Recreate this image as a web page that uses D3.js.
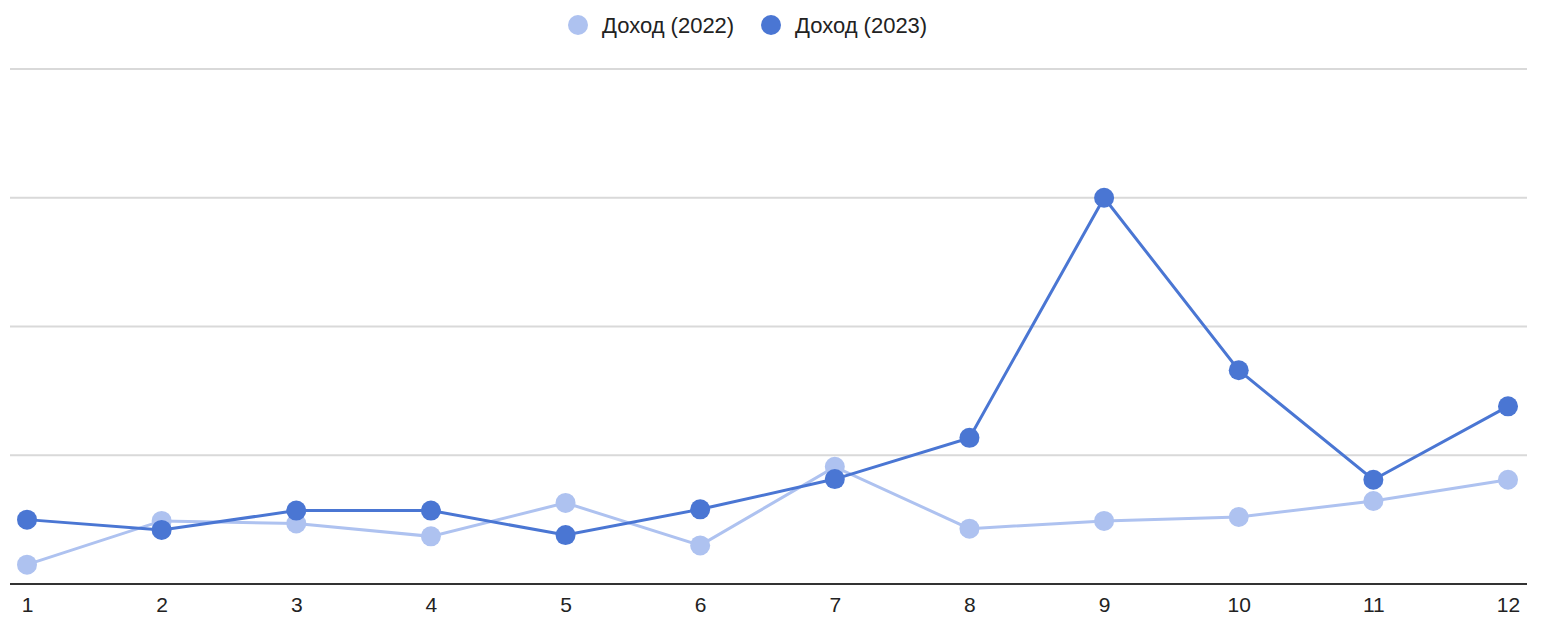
<!DOCTYPE html>
<html><head><meta charset="utf-8">
<script src="https://cdn.jsdelivr.net/npm/d3@7"></script>
<style>body{margin:0;background:#fff;}svg{display:block;font-family:"Liberation Sans",Arial,sans-serif;}</style>
</head><body>
<svg id="c" width="1542" height="637"></svg>
<script>
const months = [1,2,3,4,5,6,7,8,9,10,11,12];
const income2022 = [0.15,0.49,0.47,0.37,0.63,0.30,0.91,0.43,0.49,0.52,0.645,0.81];
const income2023 = [0.50,0.42,0.57,0.57,0.38,0.58,0.815,1.135,3.0,1.66,0.81,1.38];
const seriesNames = ["Доход (2022)","Доход (2023)"];
const yTicks = [1,2,3,4];
const colors = ["#aec2f0","#4a76d3"];

const svg = d3.select("#c");
const x = d3.scalePoint().domain(months).range([27,1508]);
const y = d3.scaleLinear().domain([0,4]).range([584,69]);

// gridlines
svg.append("g").selectAll("line").data(yTicks).join("line")
  .attr("x1",10).attr("x2",1527).attr("y1",d=>y(d)).attr("y2",d=>y(d))
  .attr("stroke","#d9d9d9").attr("stroke-width",2);

// x axis
const xa = svg.append("g").attr("transform","translate(0,584)")
  .call(d3.axisBottom(x).tickSize(0).tickPadding(13));
xa.select(".domain").remove();
xa.selectAll("text").attr("font-size",21).attr("fill","#222").style("font-family","'Liberation Sans',Arial,sans-serif");
svg.append("line").attr("x1",10).attr("x2",1527).attr("y1",584).attr("y2",584)
  .attr("stroke","#333").attr("stroke-width",2);

const series = [income2022, income2023];
const line = d3.line().x((d,i)=>x(months[i])).y(d=>y(d));
series.forEach((s,k)=>{
  const g = svg.append("g");
  g.append("path").datum(s).attr("d",line).attr("fill","none")
    .attr("stroke",colors[k]).attr("stroke-width",3);
  g.selectAll("circle").data(s).join("circle")
    .attr("cx",(d,i)=>x(months[i])).attr("cy",d=>y(d)).attr("r",10)
    .attr("fill",colors[k]);
});

// legend
const legX = [578,771];
const lg = svg.append("g");
seriesNames.forEach((n,k)=>{
  lg.append("circle").attr("cx",legX[k]).attr("cy",25).attr("r",10).attr("fill",colors[k]);
  lg.append("text").attr("x",legX[k]+24).attr("y",25).attr("dy","0.35em")
    .attr("font-size",22).attr("fill","#222").text(n);
});
</script>
</body></html>
